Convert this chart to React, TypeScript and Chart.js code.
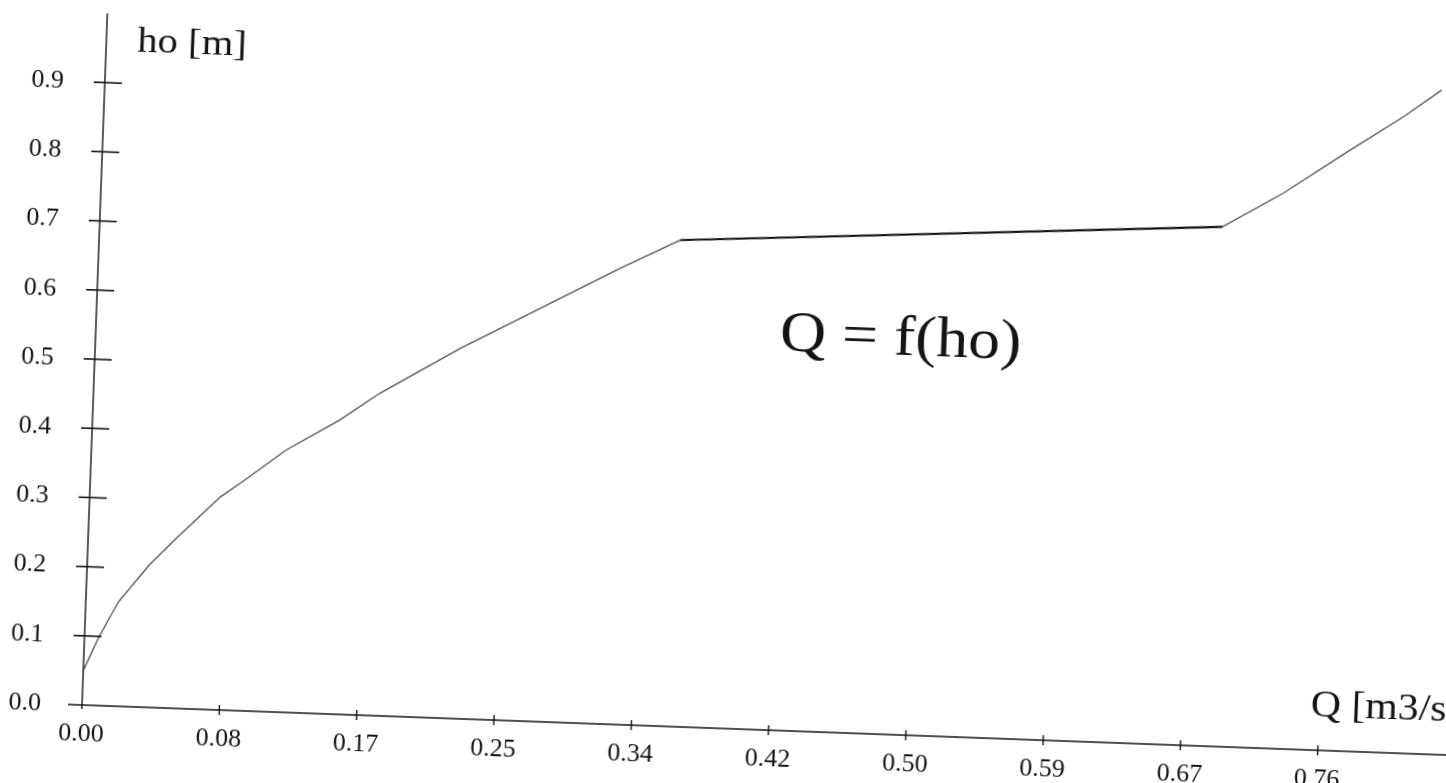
import React, { useEffect, useRef } from "react";
import { Chart, registerables } from "chart.js";

Chart.register(...registerables);

// Discharge Q [m3/s] and head ho [m]
const qValues = [0, 0.009, 0.02, 0.038, 0.054, 0.08, 0.093, 0.119, 0.151, 0.175, 0.223, 0.271, 0.319, 0.355, 0.686, 0.722, 0.762, 0.794, 0.817];
const hValues = [0.05, 0.1, 0.151, 0.206, 0.246, 0.308, 0.331, 0.379, 0.425, 0.466, 0.535, 0.597, 0.659, 0.703, 0.751, 0.802, 0.868, 0.919, 0.96];

const xTickValues = [0, 0.084, 0.168, 0.252, 0.336, 0.42, 0.504, 0.588, 0.672, 0.756];
const xTickLabels = ["0.00", "0.08", "0.17", "0.25", "0.34", "0.42", "0.50", "0.59", "0.67", "0.76"];
const yTickValues = [0, 0.1, 0.2, 0.3, 0.4, 0.5, 0.6, 0.7, 0.8, 0.9];
const yTickLabels = ["0.0", "0.1", "0.2", "0.3", "0.4", "0.5", "0.6", "0.7", "0.8", "0.9"];

const chartTitle = "Q = f(ho)";
const xAxisTitle = "Q [m3/s]";
const yAxisTitle = "ho [m]";

const SERIF = '"Liberation Serif", "Times New Roman", serif';
const INK = "#141414";

function drawStretched(ctx: CanvasRenderingContext2D, text: string, x: number, y: number, size: number, sx: number) {
  ctx.save();
  ctx.translate(x, y);
  ctx.scale(sx, 1);
  ctx.font = `${size}px ${SERIF}`;
  ctx.fillStyle = INK;
  ctx.textAlign = "left";
  ctx.textBaseline = "alphabetic";
  ctx.fillText(text, 0, 0);
  ctx.restore();
}

const sketchAxes = {
  id: "sketchAxes",
  afterDraw(chart: any) {
    const { ctx, chartArea } = chart;
    const xs = chart.scales.x;
    const ys = chart.scales.y;
    const x0 = xs.getPixelForValue(0);
    const y0 = ys.getPixelForValue(0);
    ctx.save();
    ctx.strokeStyle = INK;
    ctx.lineWidth = 1.7;
    // x axis
    ctx.beginPath();
    ctx.moveTo(x0 - 14, y0);
    ctx.lineTo(chartArea.right + 40, y0);
    ctx.stroke();
    // y axis
    ctx.lineWidth = 1.4;
    ctx.beginPath();
    ctx.moveTo(x0, ys.getPixelForValue(1.0));
    ctx.lineTo(x0, y0 + 4);
    ctx.stroke();
    // y tick crosses
    ctx.lineWidth = 1.6;
    yTickValues.forEach((v) => {
      if (v === 0) return;
      const py = ys.getPixelForValue(v);
      ctx.beginPath();
      ctx.moveTo(x0 - 11, py);
      ctx.lineTo(x0 + 17, py);
      ctx.stroke();
    });
    // x ticks
    ctx.lineWidth = 1.4;
    xTickValues.forEach((v) => {
      if (v === 0) return;
      const px = xs.getPixelForValue(v);
      ctx.beginPath();
      ctx.moveTo(px, y0 - 5);
      ctx.lineTo(px, y0 + 5);
      ctx.stroke();
    });
    ctx.restore();

    drawStretched(ctx, yAxisTitle, chartArea.left + 31, chartArea.top + 37, 36, 1.13);
    drawStretched(ctx, xAxisTitle, chartArea.left + 1228, chartArea.bottom - 34, 38, 1.1);
    drawStretched(ctx, chartTitle, chartArea.left + 684, chartArea.bottom - 380, 58, 1.1);
  },
};

export default function App() {
  const canvasRef = useRef<HTMLCanvasElement | null>(null);

  useEffect(() => {
    const canvas = canvasRef.current;
    if (!canvas) return;
    const points = qValues.map((q, i) => ({ x: q, y: hValues[i] }));
    const chart = new Chart(canvas, {
      type: "scatter",
      data: {
        datasets: [
          {
            data: points,
            showLine: true,
            borderColor: "#444444",
            borderWidth: 1.6,
            pointRadius: 0,
            fill: false,
            tension: 0,
            segment: {
              borderColor: (c: any) => {
                const dx = Math.abs(c.p1.x - c.p0.x);
                const dy = Math.abs(c.p1.y - c.p0.y);
                return dy < dx * 0.1 ? "#111111" : "#5a5a5a";
              },
              borderWidth: (c: any) => {
                const dx = Math.abs(c.p1.x - c.p0.x);
                const dy = Math.abs(c.p1.y - c.p0.y);
                return dy < dx * 0.1 ? 2.2 : 1.4;
              },
            },
          },
        ],
      },
      options: {
        animation: false,
        responsive: false,
        maintainAspectRatio: false,
        layout: { padding: { left: 0, top: 13, right: 44, bottom: 0 } },
        plugins: {
          legend: { display: false },
          tooltip: { enabled: false },
          title: { display: false },
        },
        scales: {
          x: {
            type: "linear",
            min: 0,
            max: 0.84,
            grid: { display: false },
            border: { display: false },
            afterBuildTicks: (s: any) => {
              s.ticks = xTickValues.map((v) => ({ value: v }));
            },
            afterFit: (s: any) => {
              s.height = 78;
              s.paddingLeft = 0;
              s.paddingRight = 0;
            },
            ticks: {
              autoSkip: false,
              maxRotation: 0,
              minRotation: 0,
              padding: 6,
              color: INK,
              font: { family: SERIF, size: 26 },
              callback: (_v: any, i: number) => xTickLabels[i],
            },
          },
          y: {
            type: "linear",
            min: 0,
            max: 1.0,
            grid: { display: false },
            border: { display: false },
            afterBuildTicks: (s: any) => {
              s.ticks = yTickValues.map((v) => ({ value: v }));
            },
            afterFit: (s: any) => {
              s.width = 82;
              s.paddingTop = 0;
              s.paddingBottom = 0;
            },
            ticks: {
              autoSkip: false,
              padding: 33,
              color: INK,
              font: { family: SERIF, size: 26 },
              callback: (_v: any, i: number) => yTickLabels[i],
            },
          },
        },
      },
      plugins: [sketchAxes],
    });
    return () => chart.destroy();
  }, []);

  return (
    <div style={{ position: "fixed", left: 0, top: 0, width: "100vw", height: "100vh", overflow: "hidden", background: "#fff" }}>
      <div
        style={{
          position: "absolute",
          left: 0,
          top: 0,
          width: 1500,
          height: 783,
          transform: "rotate(2.1deg)",
          transformOrigin: "82px 705px",
        }}
      >
        <canvas ref={canvasRef} width={1500} height={783} style={{ width: 1500, height: 783, display: "block" }} />
      </div>
    </div>
  );
}
